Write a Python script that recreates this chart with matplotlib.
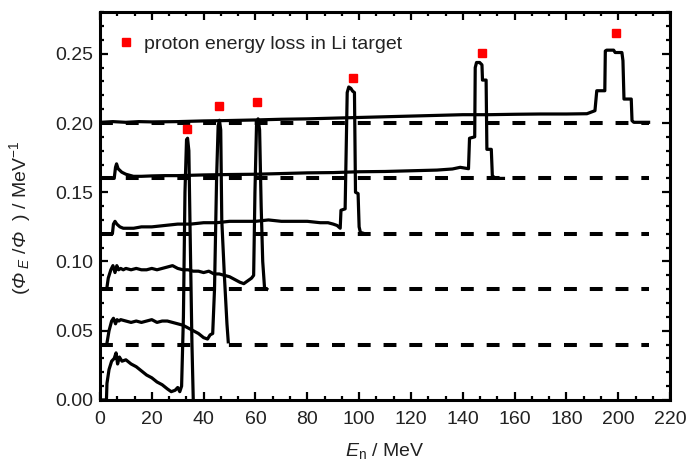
import numpy as np
import matplotlib
matplotlib.use('Agg')
import matplotlib.pyplot as plt
from matplotlib.ticker import MultipleLocator, AutoMinorLocator, FormatStrFormatter

plt.rcParams['font.family'] = ['Liberation Sans', 'DejaVu Sans']
plt.rcParams['mathtext.fontset'] = 'custom'
plt.rcParams['mathtext.rm'] = 'Liberation Sans'
plt.rcParams['mathtext.it'] = 'Liberation Sans:italic'
# mathtext keeps capital greek upright in \mathit, so use sf slot for italic Phi
plt.rcParams['mathtext.sf'] = 'Liberation Sans:italic'

# spectra, each shifted up by 0.04 (baseline = dashed line)
e1 = [0.3, 2.5, 2.7, 3.5, 4.5, 5.5, 6.2, 6.8, 7.5, 8.5, 10, 12, 14, 16, 18, 20, 22, 24, 26,
      27.5, 29, 30, 30.8, 31.5, 32.2, 32.8, 33.4, 33.8, 34.3, 34.8, 35.5, 36.0]
s1 = [0.0, 0.0, 0.012, 0.022, 0.028, 0.030, 0.034, 0.026, 0.031, 0.028, 0.029, 0.026, 0.024,
      0.021, 0.018, 0.016, 0.013, 0.011, 0.008, 0.006, 0.007, 0.009, 0.006, 0.010, 0.060,
      0.150, 0.188, 0.189, 0.180, 0.120, 0.040, 0.0]

e2 = [0.3, 2.6, 3.5, 4.5, 5.2, 6, 6.6, 7.3, 8, 10, 12, 14, 16, 18, 20, 22, 24, 26, 28, 30,
      32, 34, 36, 38, 40, 41.5, 42.5, 43.5, 44.2, 45, 45.6, 46.1, 46.6, 47.0, 48, 49, 49.5]
s2 = [0.040, 0.040, 0.050, 0.057, 0.059, 0.055, 0.058, 0.057, 0.058, 0.057, 0.056, 0.057,
      0.056, 0.057, 0.058, 0.056, 0.057, 0.057, 0.056, 0.055, 0.054, 0.052, 0.050, 0.048,
      0.045, 0.044, 0.047, 0.048, 0.080, 0.160, 0.198, 0.202, 0.195, 0.130, 0.090, 0.055, 0.042]

e3 = [0.3, 2.6, 3.2, 4.2, 5.0, 5.8, 6.5, 7.2, 8, 9, 10, 12, 14, 16, 18, 20, 22, 24, 26, 28,
      30, 32, 34, 36, 38, 40, 42, 44, 46, 48, 50, 52, 54, 55.5, 57, 58.5, 59.3, 59.8, 60.4,
      61.0, 61.6, 62.2, 62.8, 63.5, 64.4]
s3 = [0.080, 0.080, 0.088, 0.094, 0.097, 0.092, 0.097, 0.094, 0.095, 0.094, 0.095, 0.094,
      0.095, 0.094, 0.094, 0.095, 0.094, 0.095, 0.096, 0.097, 0.095, 0.094, 0.094, 0.093,
      0.093, 0.092, 0.093, 0.091, 0.091, 0.090, 0.089, 0.087, 0.085, 0.084, 0.086, 0.088,
      0.090, 0.150, 0.198, 0.203, 0.195, 0.140, 0.100, 0.081, 0.080]

e4 = [0.3, 2.5, 4.8, 5.2, 5.8, 6.5, 7.7, 9, 11, 13, 16, 20, 25, 30, 35, 40, 45, 50, 55, 60,
      65, 70, 75, 80, 85, 88, 90, 91.5, 92.7, 93.0, 94.6, 95.0, 95.4, 96.0, 96.8, 97.5, 98.2,
      98.6, 99.6, 100.0, 100.5, 102.3]
s4 = [0.120, 0.120, 0.120, 0.127, 0.129, 0.127, 0.125, 0.124, 0.124, 0.124, 0.125, 0.125,
      0.126, 0.127, 0.127, 0.128, 0.128, 0.129, 0.129, 0.129, 0.130, 0.129, 0.129, 0.129,
      0.128, 0.128, 0.127, 0.126, 0.124, 0.137, 0.138, 0.180, 0.222, 0.226, 0.225, 0.223,
      0.222, 0.150, 0.149, 0.125, 0.121, 0.120]

e5 = [0.3, 5.5, 6.0, 6.4, 7.0, 8.4, 10, 12.9, 16, 20, 25, 30, 40, 50, 60, 70, 80, 90, 100,
      110, 120, 130, 136, 139, 142.2, 142.6, 144.6, 144.8, 145.3, 146.5, 147.4, 147.6, 149.0,
      149.3, 151.0, 151.4, 152.5, 155.7]
s5 = [0.160, 0.160, 0.168, 0.1705, 0.167, 0.1645, 0.163, 0.1615, 0.1615, 0.1618, 0.162,
      0.162, 0.1625, 0.1628, 0.163, 0.1635, 0.164, 0.1642, 0.1648, 0.165, 0.1655, 0.166,
      0.1668, 0.168, 0.167, 0.189, 0.190, 0.240, 0.2437, 0.2437, 0.242, 0.231, 0.231, 0.181,
      0.181, 0.162, 0.160, 0.160]

e6 = [0.3, 5, 10, 15, 20, 30, 40, 50, 60, 70, 80, 90, 100, 110, 120, 130, 140, 150, 160, 170,
      180, 187.9, 191.0, 191.7, 194.8, 195.0, 195.5, 198.2, 198.8, 201.4, 201.8, 202.2, 205.0,
      205.3, 206.0, 211.7]
s6 = [0.2005, 0.201, 0.2005, 0.201, 0.2008, 0.201, 0.2015, 0.2018, 0.2022, 0.2027, 0.203,
      0.2035, 0.204, 0.2045, 0.205, 0.2055, 0.206, 0.206, 0.2063, 0.2065, 0.2065, 0.2067,
      0.2089, 0.2233, 0.2233, 0.252, 0.2526, 0.2526, 0.2509, 0.2509, 0.245, 0.2173, 0.2173,
      0.2017, 0.2005, 0.2005]

baselines = [0.04, 0.08, 0.12, 0.16, 0.20]
base_end = 211.7

# proton energy loss in Li target
p_e = [33.7, 46.1, 60.7, 97.5, 147.3, 199.1]
p_y = [0.196, 0.2125, 0.2154, 0.2325, 0.2505, 0.2653]

fig = plt.figure(figsize=(6.88, 4.70), dpi=100)
ax = fig.add_axes([0.1453, 0.149, 0.8287, 0.825])

for b in baselines:
    ax.plot([0, base_end], [b, b], color='black', lw=2.9, ls=(0, (3.2, 3.2)), zorder=1)

for e, s in [(e1, s1), (e2, s2), (e3, s3), (e4, s4), (e5, s5), (e6, s6)]:
    ax.plot(e, s, color='black', lw=2.3, solid_joinstyle='round', zorder=2)

ax.plot(p_e, p_y, ls='none', marker='s', ms=6, mfc='red', mec='red',
        label='proton energy loss in Li target', zorder=3)

ax.set_xlim(0, 220)
ax.set_ylim(0, 0.28)
ax.xaxis.set_major_locator(MultipleLocator(20))
ax.xaxis.set_minor_locator(AutoMinorLocator(3))
ax.yaxis.set_major_locator(MultipleLocator(0.05))
ax.yaxis.set_minor_locator(MultipleLocator(0.01))
ax.yaxis.set_major_formatter(FormatStrFormatter('%.2f'))

for sp in ax.spines.values():
    sp.set_linewidth(2.2)
ax.tick_params(which='both', direction='in', top=True, right=True, width=1.6,
               labelsize=14, labelcolor='#222222')
ax.tick_params(which='major', length=5.5)
ax.tick_params(which='minor', length=3)
ax.tick_params(axis='x', pad=8)
ax.tick_params(axis='y', pad=5)

ax.set_xlabel(r'$\mathit{E}_{\mathrm{n}}$ / MeV', fontsize=14, color='#222222', labelpad=9)
ax.set_ylabel(r'$(\mathsf{Φ}_{\ \mathit{E}}\ /\mathsf{Φ}\ \ )\ /\ \mathrm{MeV}^{-1}$',
              fontsize=14, color='#222222', labelpad=12)
ax.yaxis.set_label_coords(-0.118, 0.47)

ax.legend(loc='center left', bbox_to_anchor=(0.0325, 0.9175), frameon=False,
          handlelength=0.8, handletextpad=0.5, borderpad=0, borderaxespad=0,
          fontsize=14, labelcolor='#222222')

fig.savefig('out.png', dpi=100)
